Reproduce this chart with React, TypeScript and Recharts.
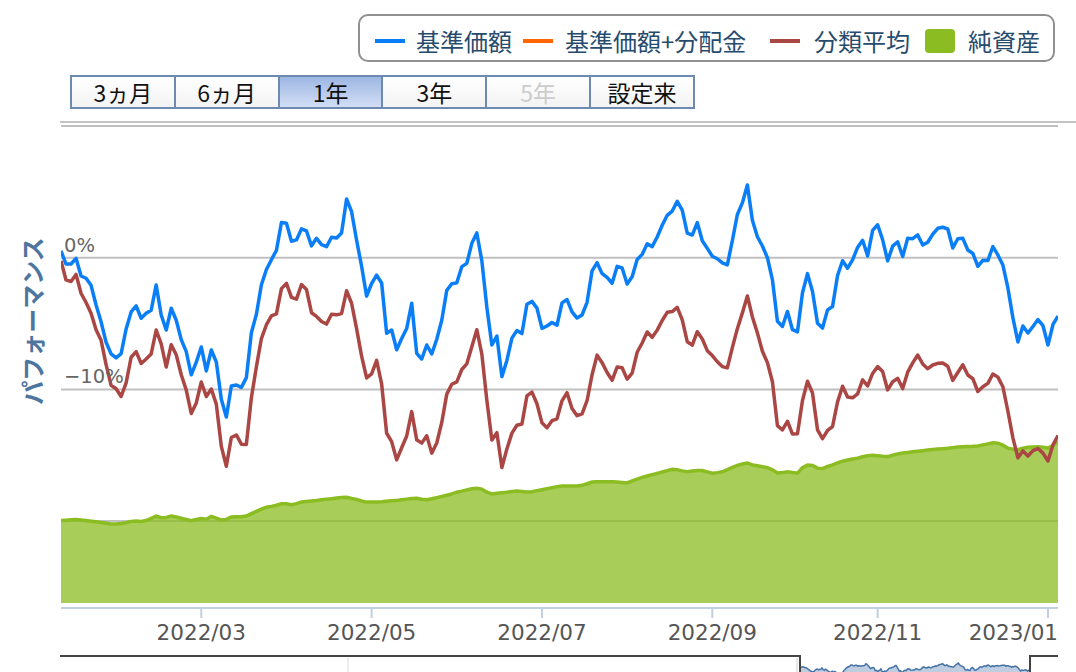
import React from 'react';
import { ComposedChart, Line, Area, XAxis, YAxis, CartesianGrid, ReferenceLine } from 'recharts';

// 基準価額 騰落率 (%), one point per sample step across the 1-year window
const navReturn = [
  0.51, -0.48, -0.48, -0.05, -1.39, -1.56, -2.10, -3.59, -4.87, -6.42,
  -7.30, -7.61, -7.28, -5.41, -4.12, -3.66, -4.60, -4.22, -3.99, -2.07,
  -4.35, -5.49, -3.84, -4.75, -6.22, -7.13, -8.89, -7.93, -6.78, -8.60,
  -7.01, -7.92, -10.75, -12.10, -9.74, -9.67, -9.85, -9.11, -5.70, -4.30,
  -2.06, -0.90, -0.15, 0.56, 2.67, 2.62, 1.25, 1.35, 2.19, 2.03,
  0.90, 1.47, 0.99, 0.84, 1.55, 1.50, 1.88, 4.46, 3.49, 1.32,
  -0.65, -2.92, -1.96, -1.33, -1.92, -5.74, -5.49, -6.99, -6.13, -5.38,
  -3.46, -7.26, -7.69, -6.63, -7.31, -6.19, -4.75, -2.48, -1.98, -1.91,
  -0.68, -0.43, 1.09, 1.88, -0.24, -3.76, -6.63, -5.95, -9.03, -7.80,
  -6.11, -5.53, -5.76, -3.54, -3.32, -3.83, -5.37, -5.19, -4.92, -5.13,
  -3.43, -3.18, -4.12, -4.58, -4.35, -3.39, -1.00, -0.38, -1.21, -1.50,
  -1.94, -0.66, -0.78, -2.00, -1.45, -0.14, 0.25, 1.05, 0.84, 1.57,
  2.46, 3.22, 3.54, 4.28, 3.61, 1.87, 1.72, 2.67, 1.29, 0.71,
  0.11, -0.08, -0.39, -0.55, 1.29, 3.28, 4.16, 5.52, 2.84, 1.59,
  0.89, 0.00, -1.68, -4.83, -5.22, -4.08, -5.47, -5.63, -2.66, -1.21,
  -2.57, -4.97, -5.34, -3.96, -3.71, -1.35, -0.23, -0.80, -0.16, 0.78,
  1.32, 0.14, 2.08, 2.50, 1.36, -0.24, 0.88, 1.20, 0.09, 1.47,
  1.44, 1.73, 0.96, 1.17, 1.78, 2.23, 2.31, 2.18, 0.74, 1.44,
  1.47, 0.58, 0.32, -0.65, -0.20, -0.22, 0.84, 0.21, -0.56, -2.30,
  -4.57, -6.40, -5.19, -5.72, -5.22, -4.70, -5.16, -6.63, -5.07, -4.43,
];

// 分類平均 騰落率 (%)
const categoryAvg = [
  -0.25, -1.69, -1.81, -1.27, -2.70, -3.40, -4.22, -5.48, -6.27, -8.12,
  -9.69, -9.95, -10.54, -9.50, -7.56, -7.13, -8.03, -7.69, -7.31, -5.49,
  -6.55, -8.30, -6.61, -7.37, -8.89, -10.05, -11.83, -11.03, -9.44, -10.54,
  -9.97, -11.12, -14.33, -15.84, -13.65, -13.46, -14.16, -14.18, -10.63, -8.28,
  -6.14, -5.09, -4.42, -4.26, -2.35, -1.95, -3.01, -3.15, -2.04, -2.42,
  -4.18, -4.46, -4.84, -5.04, -4.29, -4.34, -4.25, -2.51, -3.46, -5.38,
  -7.48, -9.13, -8.82, -7.80, -9.59, -13.33, -13.97, -15.35, -14.43, -13.54,
  -11.69, -13.83, -14.08, -13.52, -14.84, -14.07, -12.51, -10.36, -9.61, -9.43,
  -8.49, -8.06, -6.76, -5.47, -7.32, -10.83, -13.84, -13.29, -15.93, -14.52,
  -13.32, -12.72, -12.63, -10.49, -10.21, -11.09, -12.54, -12.91, -12.38, -12.23,
  -10.87, -10.25, -11.45, -12.00, -11.86, -10.86, -8.89, -7.40, -7.97, -8.72,
  -9.31, -8.30, -8.36, -9.22, -8.76, -7.18, -6.48, -5.64, -6.05, -5.50,
  -4.77, -4.15, -4.09, -3.77, -4.72, -6.38, -6.64, -5.62, -6.17, -7.06,
  -7.43, -7.90, -8.27, -8.37, -6.83, -5.39, -4.19, -2.91, -4.50, -5.71,
  -7.10, -7.97, -9.42, -12.75, -13.08, -12.42, -13.39, -13.36, -10.84, -9.38,
  -10.27, -13.07, -13.74, -13.12, -12.82, -10.95, -9.76, -10.58, -10.64, -10.34,
  -9.27, -9.73, -8.79, -8.27, -8.65, -10.04, -9.42, -9.16, -9.94, -8.69,
  -7.99, -7.39, -8.07, -8.43, -8.15, -8.02, -7.99, -8.24, -9.32, -8.72,
  -8.13, -8.91, -9.19, -10.16, -9.80, -9.54, -8.83, -9.07, -9.80, -11.66,
  -13.68, -15.19, -14.67, -15.06, -14.65, -14.49, -14.84, -15.44, -14.21, -13.50,
];

// 純資産 (億円)
const netAssets = [
  86.4, 86.8, 87.2, 87.6, 87.1, 86.4, 85.8, 85.3, 84.5, 83.6,
  82.8, 82.8, 83.3, 84.3, 85.6, 85.9, 85.4, 86.5, 88.8, 91.0,
  89.5, 89.6, 91.1, 90.1, 88.9, 87.6, 86.4, 87.6, 88.6, 87.8,
  90.9, 89.1, 87.0, 87.7, 90.2, 90.4, 90.4, 91.2, 93.7, 96.1,
  98.5, 100.5, 101.3, 102.5, 104.0, 104.0, 103.0, 104.2, 106.0, 106.5,
  107.0, 107.5, 108.2, 108.9, 109.4, 110.0, 110.7, 110.8, 109.7, 108.5,
  106.9, 105.8, 105.8, 105.8, 106.1, 106.6, 107.1, 107.6, 108.2, 108.9,
  109.6, 109.7, 108.7, 108.3, 109.3, 110.5, 111.6, 113.0, 114.4, 116.2,
  117.3, 118.6, 119.7, 120.2, 119.4, 116.2, 114.4, 115.0, 115.6, 116.2,
  117.0, 117.3, 116.9, 116.5, 116.7, 117.8, 118.8, 119.9, 120.9, 122.0,
  122.6, 122.6, 122.6, 122.6, 123.4, 125.0, 126.8, 127.1, 127.1, 127.1,
  127.1, 126.8, 126.3, 125.9, 128.0, 129.8, 131.7, 133.2, 134.6, 135.9,
  137.3, 138.8, 140.2, 139.6, 138.5, 137.7, 138.3, 139.0, 138.8, 137.5,
  136.1, 136.7, 137.5, 139.8, 142.2, 144.2, 145.8, 146.8, 144.8, 143.8,
  142.9, 141.9, 139.6, 136.3, 136.7, 137.5, 136.8, 136.1, 142.0, 144.6,
  144.3, 141.4, 141.0, 143.1, 144.9, 146.9, 148.8, 149.9, 150.9, 151.8,
  153.4, 154.3, 155.0, 154.5, 153.8, 153.5, 154.9, 156.3, 157.2, 157.8,
  158.5, 159.1, 159.7, 160.3, 161.0, 161.4, 161.8, 162.2, 162.9, 163.5,
  163.9, 164.1, 164.3, 164.7, 165.8, 166.8, 167.9, 167.6, 165.5, 162.3,
  161.2, 160.8, 162.3, 163.3, 163.5, 163.7, 163.3, 162.4, 165.2, 169.5,
];

const tickIndex = [28, 62, 96, 130, 163, 197];
const tickLabels = ['2022/03', '2022/05', '2022/07', '2022/09', '2022/11', '2023/01'];
const perfTicks = [0, -10, -20];
const perfTickLabels = ['0%', '\u221210%', ''];
const rangeButtons = ['3ヵ月', '6ヵ月', '1年', '3年', '5年', '設定来'];
const selectedRange = '1年';
const disabledRange = '5年';
const legendNames = ['基準価額', '基準価額+分配金', '分類平均', '純資産'];
const legendColors = ['#0A7EF7', '#FF6600', '#AA4643', '#8BBC21'];

const rows = navReturn.map((v, i) => ({
  i,
  nav: v,
  avg: categoryAvg[i],
  assets: netAssets[i],
}));

const PLOT_RIGHT = 1058;

const XTick = (props: any) => {
  const { x, y, payload } = props;
  const k = tickIndex.indexOf(payload.value);
  const label = k >= 0 ? tickLabels[k] : '';
  // keep the edge label inside the plot, like the original
  const isLast = k === tickIndex.length - 1;
  return (
    <text
      x={isLast ? PLOT_RIGHT : x}
      y={y + 20}
      textAnchor={isLast ? 'end' : 'middle'}
      fill="#555"
      fontSize={21.5}
      fontFamily="'DejaVu Sans', sans-serif"
    >
      {label}
    </text>
  );
};

const EmptyTick = () => <g />;

const makeYLabel = (label: string) => (props: any) => {
  const vb = props.viewBox || {};
  return (
    <text x={(vb.x || 0) + 3} y={(vb.y || 0) - 6} textAnchor="start" fill="#666" fontSize={19.5} fontFamily="'DejaVu Sans', sans-serif">
      {label}
    </text>
  );
};

const legendMarkerX = [375, 523, 770, 925];
const legendTextX = [416, 565, 814, 968];

export default function App() {
  const cjk = "'Noto Sans CJK JP', 'Noto Sans', sans-serif";
  return (
    <div style={{ position: 'fixed', left: 0, top: 0, width: 1076, height: 672, overflow: 'hidden', background: '#fff', fontFamily: "'DejaVu Sans', sans-serif" }}>
      <div style={{ position: 'absolute', left: 0, top: 0 }}>
        <ComposedChart width={1076} height={672} data={rows} margin={{ top: 126, right: 18, bottom: 24, left: 61 }}>
          <CartesianGrid yAxisId="perf" vertical={false} stroke="#C0C0C0" strokeWidth={2} />
          <XAxis
            type="number"
            dataKey="i"
            domain={[0, 199]}
            ticks={tickIndex}
            interval={0}
            height={40}
            axisLine={{ stroke: '#C0D0E0', strokeWidth: 2 }}
            tickLine={{ stroke: '#C0D0E0', strokeWidth: 2 }}
            tickSize={10}
            tick={<XTick />}
            allowDataOverflow
          />
          <YAxis
            yAxisId="perf"
            domain={[-26.6, 10]}
            ticks={perfTicks}
            width={0}
            axisLine={false}
            tickLine={false}
            tick={<EmptyTick />}
            allowDataOverflow
            interval={0}
          />
          <YAxis yAxisId="assets" orientation="right" hide domain={[-5.2, 500]} allowDataOverflow />
          <Area
            yAxisId="assets"
            type="linear"
            dataKey="assets"
            stroke="#8BBC21"
            strokeWidth={3.5}
            fill="#8BBC21"
            fillOpacity={0.75}
            dot={false}
            activeDot={false}
            isAnimationActive={false}
          />
          <Line
            yAxisId="perf"
            type="linear"
            dataKey="avg"
            stroke="#AA4643"
            strokeWidth={3.5}
            dot={false}
            activeDot={false}
            strokeLinejoin="round"
            isAnimationActive={false}
          />
          <Line
            yAxisId="perf"
            type="linear"
            dataKey="nav"
            stroke="#0A7EF7"
            strokeWidth={3.5}
            dot={false}
            activeDot={false}
            strokeLinejoin="round"
            isAnimationActive={false}
          />
          {perfTicks.map((t, k) =>
            perfTickLabels[k] ? (
              <ReferenceLine key={t} yAxisId="perf" y={t} stroke="none" label={makeYLabel(perfTickLabels[k])} />
            ) : null
          )}
        </ComposedChart>
      </div>

      {/* navigator */}
      <div style={{ position: 'absolute', left: 347, top: 658, width: 2, height: 14, background: '#ececec' }} />
      <div style={{ position: 'absolute', left: 796, top: 658, width: 2, height: 14, background: '#e6e6e6' }} />
      <div style={{ position: 'absolute', left: 800, top: 655, width: 230, height: 40 }}>
        <ComposedChart width={230} height={40} data={rows} margin={{ top: 0, right: 0, bottom: 0, left: 0 }}>
          <XAxis type="number" dataKey="i" domain={[0, 199]} hide />
          <YAxis domain={[-42.5, 17.5]} hide allowDataOverflow />
          <Area
            type="linear"
            dataKey="nav"
            stroke="#4572A7"
            strokeWidth={1.5}
            fill="#4572A7"
            fillOpacity={0.35}
            baseValue="dataMin"
            dot={false}
            activeDot={false}
            isAnimationActive={false}
          />
        </ComposedChart>
      </div>
      <div style={{ position: 'absolute', left: 60, top: 655, width: 741, height: 2, background: '#444' }} />
      <div style={{ position: 'absolute', left: 799, top: 655, width: 2, height: 17, background: '#444' }} />
      <div style={{ position: 'absolute', left: 1029, top: 655, width: 29, height: 2, background: '#444' }} />
      <div style={{ position: 'absolute', left: 1029, top: 655, width: 2, height: 17, background: '#444' }} />

      {/* separator */}
      <div style={{ position: 'absolute', left: 60, top: 121, width: 1016, height: 2, background: '#c4c4c4' }} />

      {/* y axis title */}
      <div
        style={{
          position: 'absolute', left: 32 - 110, top: 321 - 16, width: 220, height: 32,
          lineHeight: '32px', textAlign: 'center', transform: 'rotate(-90deg)',
          fontFamily: cjk, fontWeight: 'bold', fontSize: 24, color: '#4d759e', whiteSpace: 'nowrap',
        }}
      >
        パフォーマンス
      </div>

      {/* range buttons */}
      <div style={{ position: 'absolute', left: 70, top: 75, width: 625, height: 34, display: 'flex', boxSizing: 'border-box', border: '2px solid #6f8ab0' }}>
        {rangeButtons.map((b, k) => (
          <div
            key={b}
            style={{
              flex: 1,
              boxSizing: 'border-box',
              borderLeft: k === 0 ? 'none' : '2px solid #6f8ab0',
              background: b === selectedRange ? 'linear-gradient(#9db7e2, #d2def6)' : 'linear-gradient(#ffffff, #f3f3f3)',
              color: b === disabledRange ? '#cccccc' : '#111',
              fontFamily: cjk,
              fontSize: 23,
              lineHeight: '30px',
              textAlign: 'center',
            }}
          >
            {b}
          </div>
        ))}
      </div>

      {/* legend */}
      <div style={{ position: 'absolute', left: 358, top: 14, width: 697, height: 48, boxSizing: 'border-box', border: '2px solid #909090', borderRadius: 10, background: '#fff' }} />
      {legendNames.map((name, k) => (
        <React.Fragment key={name}>
          {k < 3 ? (
            <div style={{ position: 'absolute', left: legendMarkerX[k], top: 39, width: 30, height: 4, background: legendColors[k] }} />
          ) : (
            <div style={{ position: 'absolute', left: legendMarkerX[k], top: 29, width: 30, height: 24, borderRadius: 4, background: legendColors[k] }} />
          )}
          <div style={{ position: 'absolute', left: legendTextX[k], top: 26, height: 30, lineHeight: '30px', fontFamily: cjk, fontSize: 24, color: '#274b6d', whiteSpace: 'nowrap' }}>
            {name}
          </div>
        </React.Fragment>
      ))}
    </div>
  );
}
